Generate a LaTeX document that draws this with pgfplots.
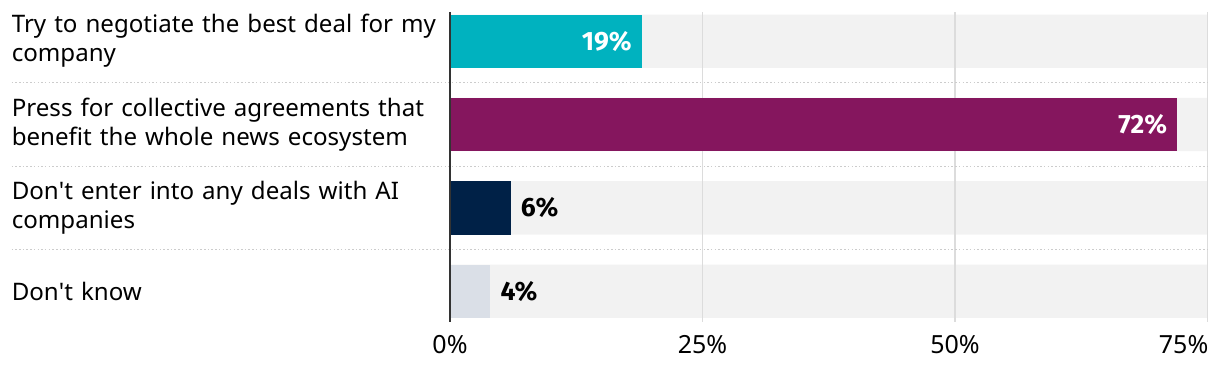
\documentclass[border=0pt]{standalone}
\usepackage{pgfplots}
\pgfplotsset{compat=1.18}
\usepackage{fontspec}
\setmainfont{Noto Sans}
\newfontfamily\vb{Fira Sans}
\definecolor{cteal}{HTML}{00B2BF}
\definecolor{cpurple}{HTML}{85165E}
\definecolor{cnavy}{HTML}{002147}
\definecolor{clight}{HTML}{DADFE7}
\definecolor{cbg}{HTML}{F2F2F2}
\definecolor{cgrid}{HTML}{DCDCDC}
\definecolor{csep}{HTML}{CCCCCC}
\definecolor{caxis}{HTML}{333333}
\newcommand{\vfont}{\vb\fontsize{26.5}{30}\bfseries\selectfont}
\begin{document}
\begin{tikzpicture}
\begin{axis}[
  name=ax,
  scale only axis,
  width=757.5pt, height=310pt,
  xmin=0, xmax=75,
  ymin=-0.35, ymax=3.37,
  y dir=reverse,
  clip=false,
  axis line style={draw=none},
  major tick length=0pt,
  xtick={0,25,50},
  xticklabels={0\%,25\%,50\%},
  extra x ticks={75},
  extra x tick labels={75\%},
  extra x tick style={xticklabel style={anchor=north east, xshift=1pt}},
  xticklabel style={font=\fontsize{25}{28}\selectfont, anchor=north, inner sep=0pt, yshift=-13pt},
  ytick={0,1,2,3},
  yticklabels={{Try to negotiate the best deal for my\\company},
               {Press for collective agreements that\\benefit the whole news ecosystem},
               {Don\textquotesingle t enter into any deals with AI\\companies},
               {Don\textquotesingle t know}},
  yticklabel style={font=\fontsize{24.1}{29}\selectfont, text width=430pt, align=left, anchor=east, inner sep=0pt, xshift=-8pt},
  xbar, bar width=0.64, bar shift=0pt,
]
% background bars
\addplot[fill=cbg, draw=none] coordinates {(75,0) (75,1) (75,2) (75,3)};
% gridlines
\addplot[xbar=false, sharp plot, cgrid, line width=1.5pt] coordinates {(25,-0.35) (25,3.37)};
\addplot[xbar=false, sharp plot, cgrid, line width=1.5pt] coordinates {(50,-0.35) (50,3.37)};
\addplot[xbar=false, sharp plot, cgrid, line width=1.5pt] coordinates {(75,-0.35) (75,3.37)};
% separators
\addplot[xbar=false, sharp plot, csep, line width=1.3pt, dash pattern=on 1.5pt off 2.2pt] coordinates {(-43.4,0.5) (75,0.5)};
\addplot[xbar=false, sharp plot, csep, line width=1.3pt, dash pattern=on 1.5pt off 2.2pt] coordinates {(-43.4,1.5) (75,1.5)};
\addplot[xbar=false, sharp plot, csep, line width=1.3pt, dash pattern=on 1.5pt off 2.2pt] coordinates {(-43.4,2.5) (75,2.5)};
% value bars
\addplot[fill=cteal, draw=none, nodes near coords={19\%}, nodes near coords style={font=\vfont, white, anchor=east, xshift=-10pt, inner sep=0pt}] coordinates {(19,0)};
\addplot[fill=cpurple, draw=none, nodes near coords={72\%}, nodes near coords style={font=\vfont, white, anchor=east, xshift=-10pt, inner sep=0pt}] coordinates {(72,1)};
\addplot[fill=cnavy, draw=none, nodes near coords={6\%}, nodes near coords style={font=\vfont, black, anchor=west, xshift=10pt, inner sep=0pt}] coordinates {(6,2)};
\addplot[fill=clight, draw=none, nodes near coords={4\%}, nodes near coords style={font=\vfont, black, anchor=west, xshift=10pt, inner sep=0pt}] coordinates {(4,3)};
% axis line at 0
\addplot[xbar=false, sharp plot, caxis, line width=2pt] coordinates {(0,-0.35) (0,3.37)};
\end{axis}
\pgfresetboundingbox
\path ([xshift=-450pt,yshift=-48pt]ax.south west) rectangle ([xshift=770pt,yshift=322pt]ax.south west);
\end{tikzpicture}
\end{document}
